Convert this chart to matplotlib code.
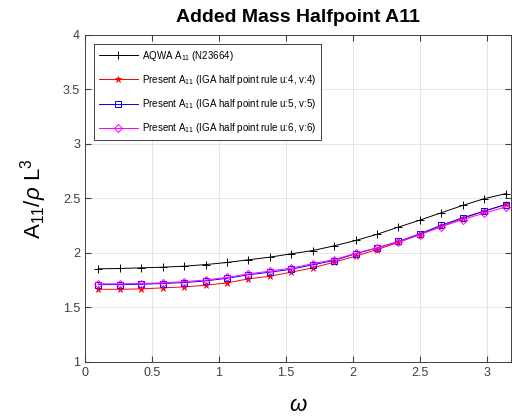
"""
Added mass A11 comparison: AQWA vs IGA half point rule.
"""
import numpy as np
import matplotlib
matplotlib.use('Agg')
import matplotlib.pyplot as plt

plt.rcParams['font.family'] = ['Liberation Sans', 'DejaVu Sans']
plt.rcParams['mathtext.fontset'] = 'custom'
plt.rcParams['mathtext.rm'] = 'Liberation Sans'
plt.rcParams['mathtext.it'] = 'Liberation Sans:italic'

# frequency values
omega = [0.10, 0.26, 0.42, 0.58, 0.74, 0.90, 1.06, 1.22, 1.38, 1.54,
         1.70, 1.86, 2.02, 2.18, 2.34, 2.50, 2.66, 2.82, 2.98, 3.14]

aqwa = [1.853, 1.856, 1.862, 1.868, 1.877, 1.892, 1.911, 1.936, 1.960, 1.991,
        2.021, 2.064, 2.113, 2.170, 2.236, 2.300, 2.368, 2.435, 2.497, 2.543]
iga_4 = [1.665, 1.665, 1.669, 1.678, 1.687, 1.702, 1.724, 1.761, 1.785, 1.822,
         1.862, 1.914, 1.969, 2.030, 2.095, 2.168, 2.242, 2.315, 2.383, 2.444]
iga_5 = [1.708, 1.708, 1.711, 1.718, 1.727, 1.742, 1.766, 1.798, 1.822, 1.849,
         1.890, 1.929, 1.991, 2.045, 2.104, 2.175, 2.254, 2.322, 2.383, 2.442]
iga_6 = [1.715, 1.715, 1.718, 1.725, 1.735, 1.750, 1.774, 1.806, 1.832, 1.860,
         1.900, 1.938, 1.995, 2.045, 2.100, 2.168, 2.240, 2.305, 2.365, 2.420]

fig = plt.figure(figsize=(5.12, 4.16), dpi=100)
ax = fig.add_axes([85 / 512, 0.1305, (511 - 85) / 512, 0.7854])

ax.plot(omega, aqwa, color='black', marker='+', ms=6, mew=0.7, lw=0.7,
        label=r'AQWA A$_{11}$ (N23664)')
ax.plot(omega, iga_4, color='red', marker='*', ms=5, mew=0.5, lw=0.7,
        label=r'Present A$_{11}$ (IGA half point rule u:4, v:4)')
ax.plot(omega, iga_5, color='blue', marker='s', ms=4.5, mfc='none', mew=0.7, lw=0.7,
        label=r'Present A$_{11}$ (IGA half point rule u:5, v:5)')
ax.plot(omega, iga_6, color='magenta', marker='D', ms=4.5, mfc='none', mew=0.7, lw=0.7,
        label=r'Present A$_{11}$ (IGA half point rule u:6, v:6)')

ax.set_xlim(0, 3.18)
ax.set_ylim(1, 4)
ax.set_xticks([0, 0.5, 1, 1.5, 2, 2.5, 3])
ax.set_xticklabels(['0', '0.5', '1', '1.5', '2', '2.5', '3'])
ax.set_yticks([1, 1.5, 2, 2.5, 3, 3.5, 4])
ax.set_yticklabels(['1', '1.5', '2', '2.5', '3', '3.5', '4'])
ax.tick_params(direction='in', labelsize=9, colors='#404040', length=4,
               top=True, right=True)
ax.grid(True, color='#e6e6e6', lw=0.7)
for s in ax.spines.values():
    s.set_color('#404040')
    s.set_linewidth(0.7)

ax.set_title('Added Mass Halfpoint A11', fontsize=14, fontweight='bold', pad=9)
ax.set_xlabel(r'$\omega$', fontsize=16, labelpad=12)
ax.set_ylabel(r'A$_{11}$/$\rho$ L$^3$', fontsize=16, labelpad=10)

leg = ax.legend(loc='upper left', fontsize=7, handlelength=4.0,
                fancybox=False, edgecolor='#404040', framealpha=1,
                borderaxespad=0.9, labelspacing=1.05, borderpad=0.5,
                handletextpad=0.5)
leg.get_frame().set_linewidth(0.7)

fig.savefig('out.png', dpi=100)
